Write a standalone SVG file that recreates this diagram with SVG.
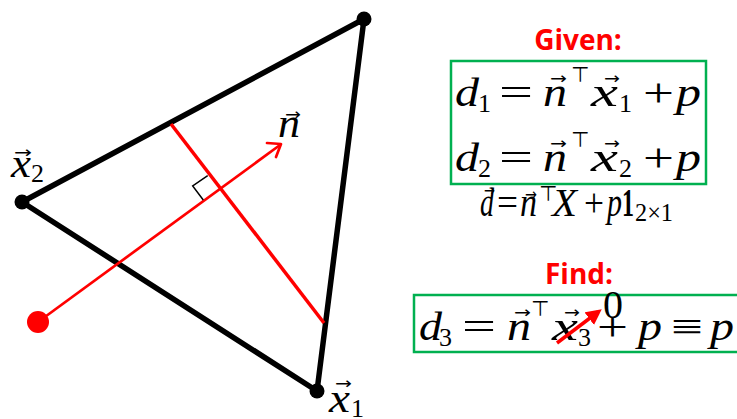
<svg xmlns="http://www.w3.org/2000/svg" width="737" height="419" viewBox="0 0 737 419">
<defs>
<style>
.mi{font-family:"Liberation Serif",serif;font-style:italic;font-size:40px;fill:#000}
.mn{font-family:"Liberation Serif",serif;font-size:40px;fill:#000}
.sub{font-family:"Liberation Serif",serif;font-size:26px;fill:#000}
.vec{font-family:"DejaVu Sans",sans-serif;font-size:16px;fill:#000}
.top{font-family:"DejaVu Sans",sans-serif;font-size:21px;fill:#000}
.head{font-family:"Open Sans","Liberation Sans",sans-serif;font-weight:bold;font-size:28px;fill:#ff0000;text-anchor:middle}
.edge{stroke:#000;stroke-width:5.5;stroke-linecap:round;fill:none}
.red{stroke:#ff0000;fill:none}
.box{fill:none;stroke:#00b050;stroke-width:2.5}
</style>
<marker id="strike" viewBox="0 0 10 10" refX="7" refY="5" markerWidth="4.5" markerHeight="4.5" orient="auto" markerUnits="strokeWidth">
<path d="M0,0 L10,5 L0,10 z" fill="#ff0000"/>
</marker>
</defs>
<rect width="737" height="419" fill="#fff"/>

<g id="connectors">
<line class="edge" x1="22" y1="202" x2="364" y2="19"/>
<line class="edge" x1="364" y1="19" x2="317" y2="391"/>
<line class="edge" x1="317" y1="391" x2="22" y2="202"/>
<line class="red" stroke-width="3.5" x1="171" y1="124" x2="324" y2="323"/>
<line class="red" stroke-width="2.7" x1="38" y1="322" x2="280" y2="145"/>
<polyline class="red" stroke-width="2.7" stroke-linecap="round" stroke-linejoin="round" points="267,143 281,144 276,157"/>
<polyline fill="none" stroke="#000" stroke-width="1.5" points="207.7,175.7 192.7,186 203.3,200"/>
</g>

<g id="node-top"><circle cx="364" cy="19" r="7.5" fill="#000"/></g>
<g id="node-x2">
<circle cx="22" cy="202" r="7.5" fill="#000"/>
<text class="mi" x="11" y="177" font-size="32" textLength="20" lengthAdjust="spacingAndGlyphs">x</text>
<text class="vec" x="14" y="158" font-size="14" textLength="18" lengthAdjust="spacingAndGlyphs">→</text>
<text class="sub" x="31" y="182" font-size="22">2</text>
</g>
<g id="node-x1">
<circle cx="317" cy="391" r="7.5" fill="#000"/>
<text class="mi" x="329" y="412" font-size="32" textLength="21" lengthAdjust="spacingAndGlyphs">x</text>
<text class="vec" x="335" y="389" font-size="14" textLength="17" lengthAdjust="spacingAndGlyphs">→</text>
<text class="sub" x="351" y="417" font-size="22">1</text>
</g>
<g id="node-origin"><circle cx="38" cy="322" r="11" fill="#ff0000"/></g>
<g id="label-n">
<text class="mi" x="278" y="137" font-size="34" textLength="22" lengthAdjust="spacingAndGlyphs">n</text>
<text class="vec" x="285" y="120" font-size="14" textLength="16" lengthAdjust="spacingAndGlyphs">→</text>
</g>

<g id="given">
<text class="head" x="578" y="50">Given:</text>
<rect class="box" x="451" y="61" width="255" height="123"/>
<g id="eq1">
<text class="mi" x="455" y="106" textLength="24" lengthAdjust="spacingAndGlyphs">d</text>
<text class="sub" x="478" y="112">1</text>
<text class="mn" x="499" y="106" textLength="34" lengthAdjust="spacingAndGlyphs">=</text>
<text class="mi" x="543" y="106" textLength="24" lengthAdjust="spacingAndGlyphs">n</text>
<text class="vec" x="550" y="84" textLength="17" lengthAdjust="spacingAndGlyphs">→</text>
<text class="top" x="571" y="82">⊤</text>
<text class="mi" x="591" y="106" textLength="27" lengthAdjust="spacingAndGlyphs">x</text>
<text class="vec" x="604" y="84" textLength="16" lengthAdjust="spacingAndGlyphs">→</text>
<text class="sub" x="619" y="112">1</text>
<text class="mn" x="643" y="106" textLength="31" lengthAdjust="spacingAndGlyphs">+</text>
<text class="mi" x="676" y="106" textLength="25" lengthAdjust="spacingAndGlyphs">p</text>
</g>
<g id="eq2">
<text class="mi" x="455" y="171" textLength="24" lengthAdjust="spacingAndGlyphs">d</text>
<text class="sub" x="478" y="177">2</text>
<text class="mn" x="499" y="171" textLength="34" lengthAdjust="spacingAndGlyphs">=</text>
<text class="mi" x="543" y="171" textLength="24" lengthAdjust="spacingAndGlyphs">n</text>
<text class="vec" x="550" y="149" textLength="17" lengthAdjust="spacingAndGlyphs">→</text>
<text class="top" x="571" y="147">⊤</text>
<text class="mi" x="591" y="171" textLength="27" lengthAdjust="spacingAndGlyphs">x</text>
<text class="vec" x="604" y="149" textLength="16" lengthAdjust="spacingAndGlyphs">→</text>
<text class="sub" x="619" y="177">2</text>
<text class="mn" x="643" y="171" textLength="31" lengthAdjust="spacingAndGlyphs">+</text>
<text class="mi" x="676" y="171" textLength="25" lengthAdjust="spacingAndGlyphs">p</text>
</g>
<g id="eq-vector">
<text class="mi" x="480" y="216" font-size="25" textLength="14" lengthAdjust="spacingAndGlyphs">d</text>
<text class="vec" x="484" y="196" font-size="11" textLength="11" lengthAdjust="spacingAndGlyphs">→</text>
<text class="mn" x="497" y="216" font-size="25" textLength="21" lengthAdjust="spacingAndGlyphs">=</text>
<text class="mi" x="520" y="216" font-size="25" textLength="17" lengthAdjust="spacingAndGlyphs">n</text>
<text class="vec" x="525" y="200" font-size="11" textLength="12" lengthAdjust="spacingAndGlyphs">→</text>
<text class="top" x="539" y="201" font-size="12">⊤</text>
<text class="mi" x="552" y="216" font-size="25" textLength="25" lengthAdjust="spacingAndGlyphs">X</text>
<text class="mn" x="584" y="216" font-size="25" textLength="20" lengthAdjust="spacingAndGlyphs">+</text>
<text class="mi" x="607" y="216" font-size="25" textLength="15" lengthAdjust="spacingAndGlyphs">p</text>
<text class="mn" x="622" y="216" font-size="25" font-weight="bold" textLength="12" lengthAdjust="spacingAndGlyphs">1</text>
<text class="sub" x="635" y="221" font-size="16" textLength="38" lengthAdjust="spacingAndGlyphs">2×1</text>
</g>
</g>

<g id="find">
<text class="head" x="579" y="284">Find:</text>
<rect class="box" x="414" y="295" width="340" height="57"/>
<g id="eq3">
<text class="mi" x="419" y="340" textLength="23" lengthAdjust="spacingAndGlyphs">d</text>
<text class="sub" x="439" y="346">3</text>
<text class="mn" x="462" y="340" textLength="34" lengthAdjust="spacingAndGlyphs">=</text>
<text class="mi" x="507" y="340" textLength="24" lengthAdjust="spacingAndGlyphs">n</text>
<text class="vec" x="514" y="318" textLength="17" lengthAdjust="spacingAndGlyphs">→</text>
<text class="top" x="531" y="316">⊤</text>
<text class="mi" x="552" y="340" textLength="26" lengthAdjust="spacingAndGlyphs">x</text>
<text class="vec" x="564" y="318" textLength="16" lengthAdjust="spacingAndGlyphs">→</text>
<text class="sub" x="578" y="346">3</text>
<text class="mn" x="603" y="318" font-size="18">0</text>
<text class="mn" x="597" y="340" textLength="31" lengthAdjust="spacingAndGlyphs">+</text>
<text class="mi" x="638" y="340" textLength="24" lengthAdjust="spacingAndGlyphs">p</text>
<text class="mn" x="671" y="340" textLength="32" lengthAdjust="spacingAndGlyphs">≡</text>
<text class="mi" x="710" y="340" textLength="24" lengthAdjust="spacingAndGlyphs">p</text>
<line class="red" stroke-width="3.5" x1="557" y1="343" x2="598" y2="312" marker-end="url(#strike)"/>
</g>
</g>
</svg>
